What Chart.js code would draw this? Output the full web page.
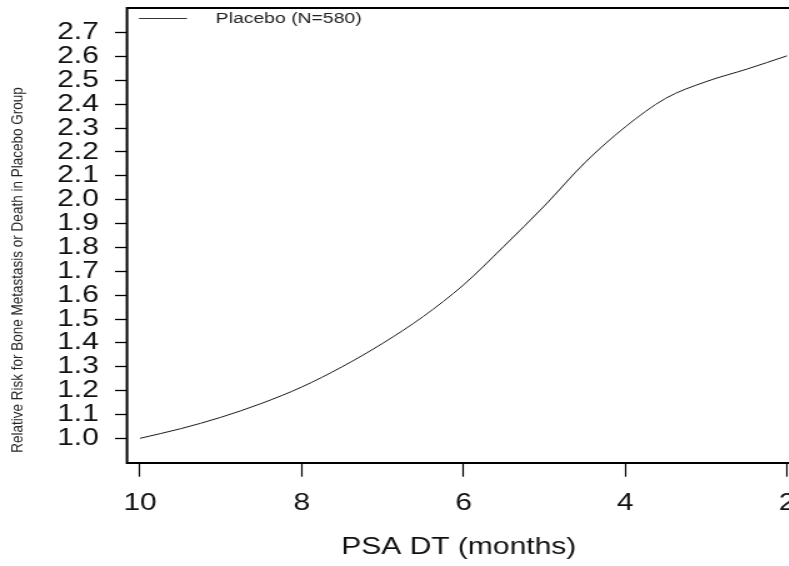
<!DOCTYPE html>
<html><head><meta charset="utf-8">
<script src="https://cdn.jsdelivr.net/npm/chart.js@4"></script>
<style>
html,body{margin:0;padding:0;background:#fff;overflow:hidden;width:789px;height:566px;}
#wrap{position:absolute;left:0;top:0;width:644px;height:566px;transform:scaleX(1.25);transform-origin:0 0;}
canvas{display:block;}
</style></head><body>
<div id="wrap"><canvas id="c" width="644" height="566"></canvas></div>
<script>
// ---- data ----
const months = [10, 9.5, 9, 8.5, 8, 7.5, 7, 6.5, 6, 5.5, 5, 4.5, 4, 3.5, 3, 2.5, 2];
const risk   = [1.00, 1.04, 1.088, 1.146, 1.215, 1.30, 1.398, 1.51, 1.643, 1.805, 1.974, 2.155, 2.305, 2.425, 2.495, 2.547, 2.603];
const xTicks = [10, 8, 6, 4, 2];
const yTicks = [1.0, 1.1, 1.2, 1.3, 1.4, 1.5, 1.6, 1.7, 1.8, 1.9, 2.0, 2.1, 2.2, 2.3, 2.4, 2.5, 2.6, 2.7];
const seriesLabel = 'Placebo (N=580)';
const xTitle = 'PSA DT (months)';
const yTitle = 'Relative Risk for Bone Metastasis or Death in Placebo Group';

const FONT = '"Liberation Sans", Arial, Helvetica, sans-serif';

const decor = {
  id: 'decor',
  afterDraw(chart) {
    const ctx = chart.ctx, a = chart.chartArea;
    ctx.save();
    // box around plot
    ctx.strokeStyle = '#000';
    ctx.lineWidth = 2;
    ctx.strokeRect(a.left, a.top, a.right - a.left, a.bottom - a.top);
    // legend
    ctx.lineWidth = 1;
    ctx.strokeStyle = '#333';
    ctx.beginPath();
    ctx.moveTo(a.left + 9.6, a.top + 10.5);
    ctx.lineTo(a.left + 48, a.top + 10.5);
    ctx.stroke();
    ctx.fillStyle = '#222';
    ctx.font = '15.5px ' + FONT;
    ctx.textBaseline = 'middle';
    ctx.textAlign = 'left';
    ctx.fillText(seriesLabel, a.left + 71, a.top + 11);
    // x title
    ctx.fillStyle = '#111';
    ctx.font = '24px ' + FONT;
    ctx.textAlign = 'center';
    ctx.fillText(xTitle, 367, 547);
    // y title
    ctx.translate(14, 270);
    ctx.rotate(-Math.PI / 2);
    ctx.font = '13.5px ' + FONT;
    ctx.fillStyle = '#222';
    ctx.fillText(yTitle, 0, 0);
    ctx.restore();
  }
};

new Chart(document.getElementById('c'), {
  type: 'line',
  data: {
    datasets: [{
      label: seriesLabel,
      data: months.map((m, i) => ({x: m, y: risk[i]})),
      borderColor: '#1a1a1a',
      borderWidth: 1,
      pointRadius: 0,
      fill: false,
      cubicInterpolationMode: 'monotone'
    }]
  },
  options: {
    responsive: false,
    animation: false,
    layout: {padding: {top: 8, right: 6, left: 0, bottom: 0}},
    plugins: {legend: {display: false}, tooltip: {enabled: false}},
    scales: {
      x: {
        type: 'linear', reverse: true, min: 1.8702, max: 10.1607,
        afterBuildTicks: s => { s.ticks = xTicks.map(v => ({value: v})); },
        afterFit: s => { s.height = 103; s.paddingLeft = 0; s.paddingRight = 0; },
        border: {display: false},
        grid: {drawOnChartArea: false, drawTicks: true, tickLength: 13.7, tickColor: '#000', tickWidth: 1.2},
        ticks: {color: '#111', font: {family: FONT, size: 24}, padding: 12, maxRotation: 0, autoSkip: false,
                callback: v => String(v)}
      },
      y: {
        type: 'linear', min: 0.8965, max: 2.8035,
        afterBuildTicks: s => { s.ticks = yTicks.map(v => ({value: v})); },
        afterFit: s => { s.width = 101.6; s.paddingTop = 0; s.paddingBottom = 0; },
        border: {display: false},
        grid: {drawOnChartArea: false, drawTicks: true, tickLength: 9.6, tickColor: '#000', tickWidth: 1.3},
        ticks: {color: '#111', font: {family: FONT, size: 24, lineHeight: 1}, padding: 13, autoSkip: false,
                callback: v => Number(v).toFixed(1)}
      }
    }
  },
  plugins: [decor]
});
</script>
</body></html>
